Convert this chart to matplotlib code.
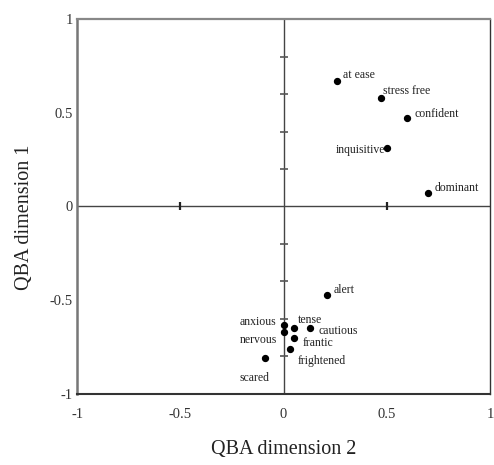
import matplotlib
matplotlib.use("Agg")
import matplotlib.pyplot as plt

plt.rcParams['font.family'] = ['Liberation Serif', 'DejaVu Serif']

labels = ["at ease", "stress free", "confident", "inquisitive", "dominant", "alert",
          "anxious", "tense", "cautious", "nervous", "frantic", "frightened", "scared"]
dim2 = [0.26, 0.47, 0.60, 0.50, 0.70, 0.21, 0.00, 0.05, 0.13, 0.00, 0.05, 0.03, -0.09]
dim1 = [0.67, 0.58, 0.47, 0.31, 0.07, -0.47, -0.63, -0.65, -0.65, -0.67, -0.70, -0.76, -0.81]

# label offsets (points) and alignment
offsets = {
    "at ease": (4, 4, "left"),
    "stress free": (2, 5, "left"),
    "confident": (5, 3, "left"),
    "inquisitive": (-1, -1, "right"),
    "dominant": (5, 4, "left"),
    "alert": (5, 3, "left"),
    "anxious": (-5, 2, "right"),
    "tense": (3, 6, "left"),
    "cautious": (6, -2, "left"),
    "nervous": (-5, -6, "right"),
    "frantic": (6, -4, "left"),
    "frightened": (6, -9, "left"),
    "scared": (-18, -14, "left"),
}

fig = plt.figure(figsize=(4.94, 4.65), dpi=100)
ax = fig.add_axes([0.156, 0.153, 0.836, 0.806])
ax.set_xlim(-1, 1)
ax.set_ylim(-1, 1)

ax.axhline(0, color="#444444", lw=1.0, zorder=1)
ax.axvline(0, color="#444444", lw=1.0, zorder=1)
# small ticks on the center lines
for yv in [-0.8, -0.6, -0.4, -0.2, 0.2, 0.4, 0.6, 0.8]:
    ax.plot([0], [yv], marker="_", ms=6, mew=1.2, color="#555555", zorder=1)
for xv in [-0.5, 0.5]:
    ax.plot([xv], [0], marker="|", ms=6, mew=1.6, color="#222222", zorder=1)

ax.scatter(dim2, dim1, s=18, color="black", zorder=3)
for lab, x, y in zip(labels, dim2, dim1):
    dx, dy, ha = offsets[lab]
    ax.annotate(lab, (x, y), xytext=(dx, dy), textcoords="offset points",
                ha=ha, va="center", fontsize=8.5, color="#222222")

ax.set_xticks([-1, -0.5, 0, 0.5, 1])
ax.set_xticklabels(["-1", "-0.5", "0", "0.5", "1"])
ax.set_yticks([-1, -0.5, 0, 0.5, 1])
ax.set_yticklabels(["-1", "-0.5", "0", "0.5", "1"])
ax.tick_params(length=0, labelsize=10.5, colors="#333333")
ax.tick_params(axis="x", pad=10)
ax.tick_params(axis="y", pad=3)
for s in ax.spines.values():
    s.set_color("#333333")
    s.set_linewidth(1.0)
ax.spines["left"].set_linewidth(1.8)
ax.spines["left"].set_color("#777777")
ax.spines["top"].set_linewidth(1.6)
ax.spines["top"].set_color("#888888")
ax.spines["bottom"].set_linewidth(1.5)

ax.set_xlabel("QBA dimension 2", fontsize=14.5, color="#222222")
ax.set_ylabel("QBA dimension 1", fontsize=14.5, color="#222222")
ax.xaxis.set_label_coords(0.5, -0.122)
ax.yaxis.set_label_coords(-0.105, 0.47)

fig.savefig("out.png", dpi=100)
